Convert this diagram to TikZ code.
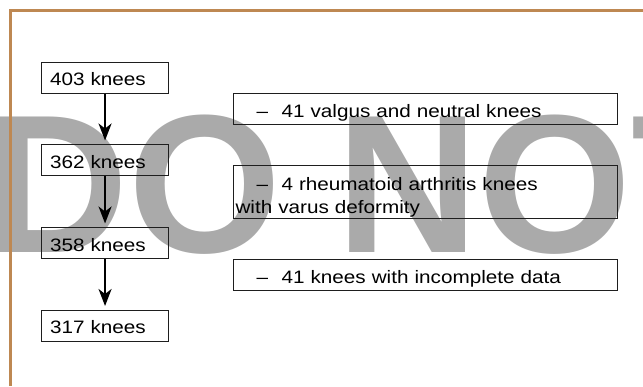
\documentclass[tikz,border=0pt]{standalone}
\usepackage{fontspec}
\setmainfont{Liberation Sans}[FakeStretch=1.15]
\newfontfamily\wmfont{Liberation Sans}
\usetikzlibrary{arrows.meta}
\definecolor{wmgray}{RGB}{170,170,170}
\definecolor{framebrown}{RGB}{190,136,82}
\definecolor{boxline}{RGB}{30,30,30}
\newcommand{\dashlead}{\hspace*{21pt}–\hspace{13.5pt}}
\begin{document}
\begin{tikzpicture}[x=1pt,y=-1pt,
  boxbase/.style={draw=boxline, line width=1.1pt, anchor=north west, inner ysep=0pt,
    align=left, font=\fontsize{18}{23.5}\selectfont},
  lbox/.style={boxbase, inner xsep=8.5pt, text width=110pt, text height=23.5pt, text depth=7.5pt},
  rbox/.style={boxbase, inner xsep=1.7pt, text width=380pt, text height=23.8pt, text depth=7.2pt},
  flow/.style={line width=2pt, -{Stealth[length=17pt,width=13pt,inset=5pt]}, shorten >=3.5pt}]
\useasboundingbox (0,0) rectangle (643,386);
\clip (0,0) rectangle (643,386);
% watermark
\node[anchor=base west, inner sep=0pt, text=wmgray, font=\wmfont\bfseries\fontsize{197}{197}\selectfont] (wm) at (-14,252) {DO NOT};
% frame
\draw[framebrown, line width=2.8pt] (10.5,386) -- (10.5,10.5) -- (643,10.5);
% left column
\node[lbox] (n403) at (41,61.5) {403 knees};
\node[lbox] (n362) at (41,144) {362 knees};
\node[lbox] (n358) at (41,227) {358 knees};
\node[lbox] (n317) at (41,309.5) {317 knees};
% right column
\node[rbox] (r1) at (233.3,93.3) {\dashlead 41 valgus and neutral knees};
\node[rbox, text height=24.5pt, text depth=28.5pt] (r2) at (233.3,165) {\dashlead 4 rheumatoid arthritis knees\\with varus deformity};
\node[rbox] (r3) at (233.3,259) {\dashlead 41 knees with incomplete data};
% arrows
\draw[flow] (n403.south) -- (n362.north);
\draw[flow] (n362.south) -- (n358.north);
\draw[flow] (n358.south) -- (n317.north);
\end{tikzpicture}
\end{document}
